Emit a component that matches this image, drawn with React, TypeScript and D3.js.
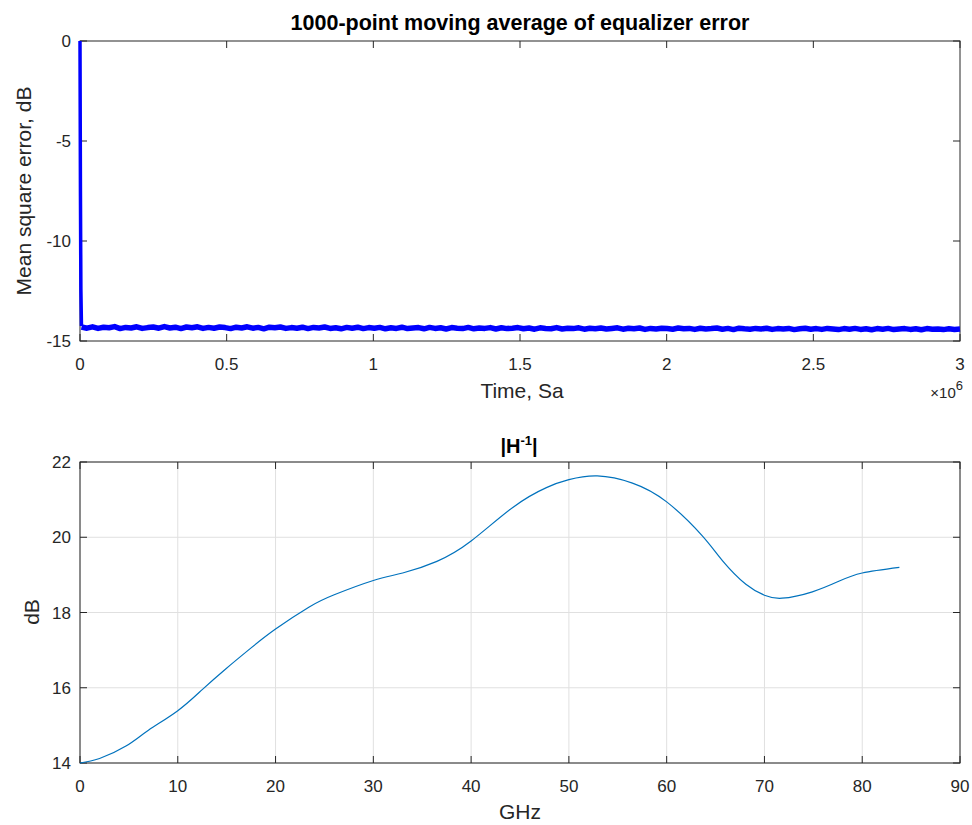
import React from 'react';
import * as d3 from 'd3';

// top panel: moving average of equalizer error (dB) vs sample index
const dropTime = [0, 1500, 3000, 5000];
const dropMse = [0, -7.5, -12.4, -14.25];
// steady-state noise band (evenly spaced in time after the drop)
const noiseMse = [
  -14.30, -14.36, -14.29, -14.37, -14.31, -14.34, -14.28, -14.38, -14.32, -14.35,
  -14.29, -14.37, -14.33, -14.30, -14.36, -14.28, -14.35, -14.31, -14.38, -14.30,
  -14.34, -14.29, -14.37, -14.32, -14.36, -14.30, -14.33, -14.38, -14.31, -14.35,
  -14.29, -14.36, -14.32, -14.39, -14.31, -14.34, -14.30, -14.37, -14.33, -14.36,
  -14.31, -14.38, -14.32, -14.35, -14.30, -14.37, -14.34, -14.39, -14.32, -14.36,
  -14.31, -14.38, -14.33, -14.36, -14.32, -14.39, -14.34, -14.37, -14.31, -14.38,
  -14.35, -14.33, -14.39, -14.32, -14.37, -14.34, -14.40, -14.33, -14.36, -14.38,
  -14.32, -14.39, -14.35, -14.37, -14.33, -14.40, -14.34, -14.38, -14.36, -14.33,
  -14.39, -14.35, -14.41, -14.34, -14.37, -14.39, -14.33, -14.40, -14.36, -14.38,
  -14.34, -14.41, -14.36, -14.39, -14.35, -14.40, -14.37, -14.34, -14.41, -14.36,
  -14.39, -14.35, -14.42, -14.37, -14.40, -14.36, -14.38, -14.41, -14.35, -14.39,
  -14.37, -14.42, -14.36, -14.40, -14.38, -14.35, -14.41, -14.37, -14.43, -14.36,
  -14.39, -14.41, -14.37, -14.40, -14.36, -14.42, -14.38, -14.40, -14.37, -14.43,
  -14.39, -14.36, -14.41, -14.38, -14.42, -14.37, -14.40, -14.43, -14.38, -14.41,
  -14.37, -14.42, -14.39, -14.44, -14.38, -14.41, -14.37, -14.43, -14.40, -14.38,
  -14.42, -14.39, -14.44, -14.38, -14.41, -14.40, -14.43, -14.39, -14.42, -14.40,
];
const timeTicks = [0, 0.5, 1, 1.5, 2, 2.5, 3];
const mseTicks = [-15, -10, -5, 0];

// bottom panel: |H^-1| in dB vs frequency
const freqGHz = [0, 2, 4.7, 7, 10, 12.5, 14.9, 17.5, 20, 23.4, 26, 30, 33, 36.5, 40, 44.3, 47.7, 50, 52.9, 56.5, 60, 63.6, 65.7, 68.1, 70, 71.8, 74.9, 77.6, 80, 83.8];
const gainDb = [14.0, 14.12, 14.45, 14.87, 15.39, 15.95, 16.5, 17.06, 17.56, 18.14, 18.47, 18.85, 19.05, 19.36, 19.9, 20.8, 21.32, 21.53, 21.63, 21.44, 20.94, 20.05, 19.38, 18.75, 18.46, 18.38, 18.55, 18.83, 19.05, 19.2];
const freqTicks = [0, 10, 20, 30, 40, 50, 60, 70, 80, 90];
const gainTicks = [14, 16, 18, 20, 22];

const font = '"Liberation Sans", Arial, Helvetica, sans-serif';
const axisColor = '#262626';
const tickLen = 7;
const tickFont = 17;
const labelFont = 21;

type Pt = [number, number];

function Frame({x, y, xTicks, yTicks, xFmt, yFmt, grid}: any) {
  const [x0, x1] = x.range();
  const [y0, y1] = y.range(); // y0 bottom, y1 top
  return (
    <g>
      {grid && xTicks.map((t: number) => (
        <line key={'gx' + t} x1={x(t)} x2={x(t)} y1={y0} y2={y1} stroke="#e0e0e0" strokeWidth={1}/>
      ))}
      {grid && yTicks.map((t: number) => (
        <line key={'gy' + t} x1={x0} x2={x1} y1={y(t)} y2={y(t)} stroke="#e0e0e0" strokeWidth={1}/>
      ))}
      <rect x={x0} y={y1} width={x1 - x0} height={y0 - y1} fill="none" stroke={axisColor} strokeWidth={1}/>
      {xTicks.map((t: number) => (
        <g key={'tx' + t}>
          <line x1={x(t)} x2={x(t)} y1={y0} y2={y0 - tickLen} stroke={axisColor}/>
          <line x1={x(t)} x2={x(t)} y1={y1} y2={y1 + tickLen} stroke={axisColor}/>
          <text x={x(t)} y={y0 + 29} textAnchor="middle" fontSize={tickFont} fill={axisColor}>{xFmt(t)}</text>
        </g>
      ))}
      {yTicks.map((t: number) => (
        <g key={'ty' + t}>
          <line x1={x0} x2={x0 + tickLen} y1={y(t)} y2={y(t)} stroke={axisColor}/>
          <line x1={x1} x2={x1 - tickLen} y1={y(t)} y2={y(t)} stroke={axisColor}/>
          <text x={x0 - 9} y={y(t) + 6} textAnchor="end" fontSize={tickFont} fill={axisColor}>{yFmt(t)}</text>
        </g>
      ))}
    </g>
  );
}

export default function App() {
  // top panel
  const xT = d3.scaleLinear().domain([0, 3e6]).range([80, 960]);
  const yT = d3.scaleLinear().domain([-15, 0]).range([341, 41]);
  const tStep = (3e6 - 5000) / (noiseMse.length - 1);
  const dropPts: Pt[] = dropTime.map((t, i) => [t, dropMse[i]] as Pt);
  const noisePts: Pt[] = noiseMse.map((v, i) => [5000 + i * tStep, v] as Pt);
  const mseLine = d3.line<Pt>().x(d => xT(d[0])).y(d => yT(d[1]));

  // bottom panel
  const xB = d3.scaleLinear().domain([0, 90]).range([80, 960]);
  const yB = d3.scaleLinear().domain([14, 22]).range([763, 462]);
  const gainPts: Pt[] = freqGHz.map((f, i) => [f, gainDb[i]] as Pt);
  const gainLine = d3.line<Pt>().x(d => xB(d[0])).y(d => yB(d[1])).curve(d3.curveNatural);

  return (
    <svg width={972} height={825} style={{position: 'absolute', left: 0, top: 0, background: '#fff'}}
         fontFamily={font}>
      <rect width={972} height={825} fill="#fff"/>

      {/* top panel */}
      <Frame x={xT} y={yT} xTicks={timeTicks.map(t => t * 1e6)} yTicks={mseTicks}
             xFmt={(t: number) => String(t / 1e6)} yFmt={(t: number) => String(t)} grid={false}/>
      <path d={mseLine(dropPts) || ''} fill="none" stroke="#0000ff" strokeWidth={3.5} strokeLinejoin="round"/>
      <path d={mseLine(noisePts) || ''} fill="none" stroke="#0000ff" strokeWidth={5.5} strokeLinejoin="round"/>
      <text x={520} y={30} textAnchor="middle" fontSize={21.5} fontWeight="bold" fill="#000">
        1000-point moving average of equalizer error
      </text>
      <text x={522} y={398} textAnchor="middle" fontSize={labelFont} fill={axisColor}>Time, Sa</text>
      <text x={963} y={398} textAnchor="end" fontSize={15} fill={axisColor}>
        ×10<tspan dy={-8} fontSize={13}>6</tspan>
      </text>
      <text transform="translate(31,191) rotate(-90)" textAnchor="middle" fontSize={labelFont} fill={axisColor}>
        Mean square error, dB
      </text>

      {/* bottom panel */}
      <Frame x={xB} y={yB} xTicks={freqTicks} yTicks={gainTicks}
             xFmt={(t: number) => String(t)} yFmt={(t: number) => String(t)} grid={true}/>
      <path d={gainLine(gainPts) || ''} fill="none" stroke="#0072bd" strokeWidth={1.2}/>
      <text x={519} y={453} textAnchor="middle" fontSize={20} fontWeight="bold" fill="#000">
        |H<tspan dy={-8} fontSize={13}>-1</tspan><tspan dy={8}>|</tspan>
      </text>
      <text x={520} y={819} textAnchor="middle" fontSize={labelFont} fill={axisColor}>GHz</text>
      <text transform="translate(39,612) rotate(-90)" textAnchor="middle" fontSize={labelFont} fill={axisColor}>dB</text>
    </svg>
  );
}
